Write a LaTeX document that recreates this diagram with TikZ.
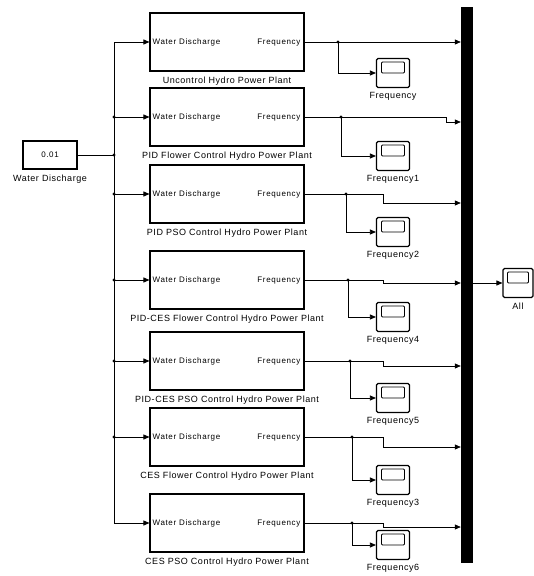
\documentclass[tikz,border=0pt]{standalone}
\usepackage{fontspec}
\usetikzlibrary{arrows.meta}
\newfontfamily\blkfont[LetterSpace=8]{Liberation Sans}
\newfontfamily\lblfont[LetterSpace=6]{Liberation Sans}
\begin{document}
\begin{tikzpicture}[x=1pt,y=-1pt,
 plant/.style={draw, line width=1.1pt, minimum width=154pt, minimum height=58pt, inner sep=0pt},
 port/.style={font=\blkfont\fontsize{8}{9}\selectfont, inner sep=0pt, text height=6pt, text depth=1.7pt},
 lbl/.style={font=\lblfont\fontsize{9}{10}\selectfont, inner sep=0pt, text height=6.5pt, text depth=2pt},
 scopebox/.style={draw, line width=1.1pt, rounded corners=1.5pt, minimum width=33pt, minimum height=29pt, inner sep=0pt},
 screen/.style={draw, line width=0.8pt, rounded corners=1pt},
 sig/.style={line width=0.75pt, -{Triangle[length=6pt,width=5pt]}},
 wire/.style={line width=0.75pt},
 jdot/.style={circle, fill, inner sep=0pt, minimum size=3.2pt},
]
\useasboundingbox (0,0) rectangle (534,576);

% constant source
\node[draw, line width=1.1pt, minimum width=54pt, minimum height=28pt, inner sep=0pt,
      font=\blkfont\fontsize{8}{9}\selectfont] (const) at (50,155) {0.01};
\node[lbl, anchor=north] (constlbl) at ([yshift=-5pt]const.south) {Water Discharge};

% plants
\foreach \n/\y/\t in {1/42/Uncontrol Hydro Power Plant,
                      2/117/PID Flower Control Hydro Power Plant,
                      3/194/PID PSO Control Hydro Power Plant,
                      4/280/PID-CES Flower Control Hydro Power Plant,
                      5/361/PID-CES PSO Control Hydro Power Plant,
                      6/437/CES Flower Control Hydro Power Plant,
                      7/523/CES PSO Control Hydro Power Plant}{
  \node[plant] (p\n) at (227,\y) {};
  \node[port, anchor=west] (pin\n) at ([xshift=3pt]p\n.west) {Water Discharge};
  \node[port, anchor=east] (pout\n) at ([xshift=-4pt]p\n.east) {Frequency};
  \node[lbl, anchor=north] (pl\n) at ([yshift=-5pt]p\n.south) {\t};
}

% scopes
\foreach \n/\y/\t in {1/73/Frequency, 2/156/Frequency1, 3/232/Frequency2,
                      4/317/Frequency4, 5/398/Frequency5, 6/480/Frequency3,
                      7/545/Frequency6}{
  \node[scopebox] (s\n) at (393,\y) {};
  \draw[screen] ([xshift=-11.5pt,yshift=-4pt]s\n.north) rectangle ([xshift=11.5pt,yshift=-15pt]s\n.north);
  \node[lbl, anchor=north] (sl\n) at ([yshift=-4pt]s\n.south) {\t};
}
\node[scopebox, minimum width=30pt] (all) at (518,283) {};
\draw[screen] ([xshift=-10.5pt,yshift=-4pt]all.north) rectangle ([xshift=10.5pt,yshift=-15pt]all.north);
\node[lbl, anchor=north] (alllbl) at ([yshift=-5pt]all.south) {All};

% bus bar
\node[fill=black, minimum width=12pt, minimum height=556pt, inner sep=0pt] (bar) at (467,285) {};

% input distribution
\coordinate (split) at (114,155);
\coordinate (vtop) at (114,42);
\coordinate (vbot) at (114,523);
\draw[wire] (const.east) -- (split);
\draw[wire] (vtop) -- (vbot);
\foreach \n in {1,...,7}{ \draw[sig] (p\n.west -| vtop) -- (p\n.west); }
\foreach \n in {2,...,6}{ \node[jdot] at (p\n.west -| vtop) {}; }
\node[jdot] (splitdot) at (split) {};

% output dots
\node[jdot] (d1) at (338,42) {};
\node[jdot] (d2) at (341,117) {};
\node[jdot] (d3) at (346,194) {};
\node[jdot] (d4) at (348,280) {};
\node[jdot] (d5) at (350,361) {};
\node[jdot] (d6) at (352,437) {};
\node[jdot] (d7) at (352,523) {};

% step coordinates
\coordinate (k2) at (446,122);
\coordinate (k3) at (383,203);
\coordinate (k4) at (383,283);
\coordinate (k5) at (383,366);
\coordinate (k6) at (383,447);
\coordinate (k7) at (383,527);

% outputs to bus
\draw[sig] (p1.east) -- (bar.west |- p1.east);
\foreach \n in {2,...,7}{
  \draw[sig] (p\n.east) -- (k\n |- p\n.east) -- (k\n) -- (bar.west |- k\n);
}
% branches to scopes
\foreach \n in {1,...,7}{
  \draw[sig] (d\n.center) |- (s\n.west);
}
% bus to All
\draw[sig] (bar.east |- all.west) -- (all.west);
\end{tikzpicture}
\end{document}
